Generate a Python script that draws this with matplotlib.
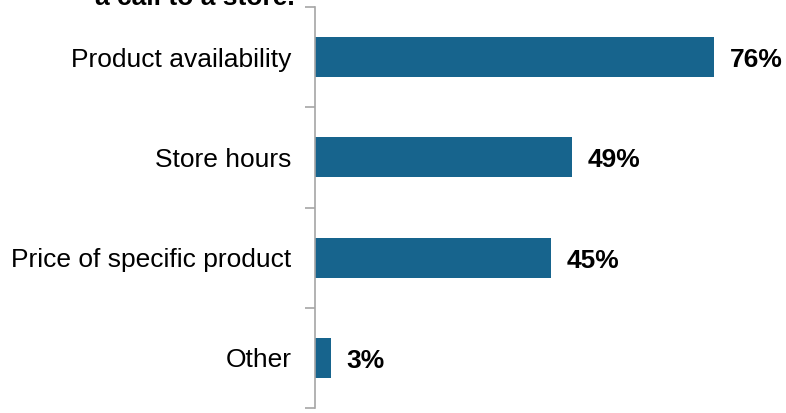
import matplotlib
matplotlib.use("Agg")
import matplotlib.pyplot as plt
import numpy as np

# data
categories = ["Product availability", "Store hours", "Price of specific product", "Other"]
values = [76, 49, 45, 3]
value_labels = ["76%", "49%", "45%", "3%"]

plt.rcParams['font.family'] = ['Liberation Sans', 'DejaVu Sans']

fig = plt.figure(figsize=(7.86, 4.13), dpi=100)
ax = fig.add_axes([315 / 786, 5 / 413, 1 - 315 / 786, 401 / 413])

y = np.arange(len(categories))[::-1]
ax.barh(y, values, height=0.4, color='#17648d')

for yi, v, lab in zip(y, values, value_labels):
    ax.text(v + 3.0, yi - 0.03, lab, va='center', ha='left', fontsize=19, fontweight='bold')

ax.set_xlim(0, 89.7)
ax.set_ylim(-0.5, len(categories) - 0.5)
ax.set_yticks(y)
ax.set_yticklabels(categories, fontsize=19)
ax.set_yticks(np.arange(-0.5, len(categories)), minor=True)
ax.tick_params(axis='y', which='major', length=0, pad=17)
ax.tick_params(axis='y', which='minor', length=7, color='#a6a6a6', width=1.2)
ax.set_xticks([])

for s in ['top', 'right', 'bottom']:
    ax.spines[s].set_visible(False)
ax.spines['left'].set_color('#a6a6a6')
ax.spines['left'].set_linewidth(1.2)

# title, clipped at the top of the picture
fig.text(295 / 786, 1 - 5 / 413, "a call to a store.", ha='right', va='baseline',
         fontsize=19, fontweight='bold')

fig.savefig("out.png", dpi=100)
